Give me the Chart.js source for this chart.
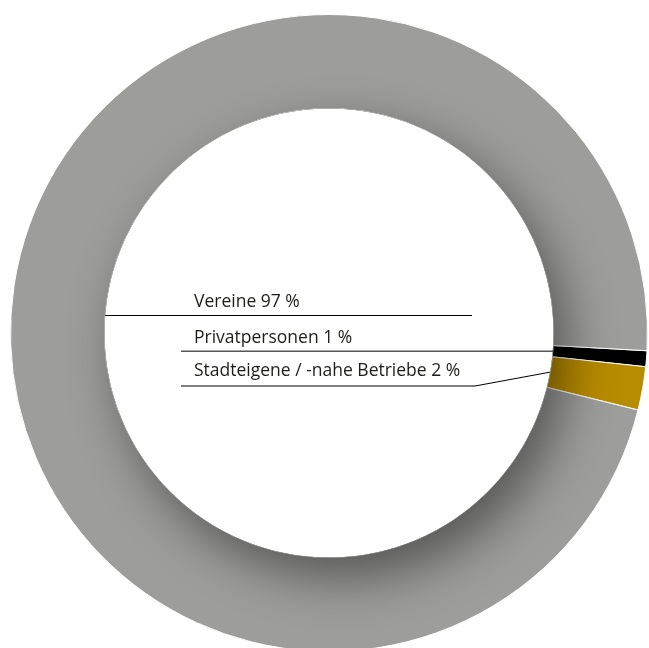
<!DOCTYPE html>
<html>
<head>
<meta charset="utf-8">
<script src="https://cdn.jsdelivr.net/npm/chart.js@4"></script>
<style>
  html, body { margin: 0; padding: 0; background: #fff; overflow: hidden; }
  #wrap { width: 649px; height: 666px; position: relative; }
</style>
</head>
<body>
<div id="wrap"><canvas id="myChart"></canvas></div>
<script>
// data (order = clockwise, starting just below 3 o'clock)
const categories = ['Privatpersonen', 'Stadteigene / -nahe Betriebe', 'Vereine'];
const shares = [0.8, 2.2, 97.0];
const sliceColors = ['#000000', '#b88c00', '#9d9d9c'];

const font = '17.5px "Open Sans", sans-serif';

// inner shadow cast by the hole onto the ring
const ringShadow = {
  id: 'ringShadow',
  afterDatasetsDraw(chart) {
    const arc = chart.getDatasetMeta(0).data[0];
    const { x, y, innerRadius, outerRadius } = arc;
    const ctx = chart.ctx;
    ctx.save();
    ctx.beginPath();
    ctx.arc(x, y, outerRadius, 0, Math.PI * 2);
    ctx.arc(x, y, innerRadius, 0, Math.PI * 2, true);
    ctx.clip();
    ctx.shadowColor = 'rgba(0,0,0,0.45)';
    ctx.shadowBlur = 50;
    ctx.shadowOffsetX = 14;
    ctx.shadowOffsetY = 20;
    ctx.fillStyle = '#000';
    ctx.beginPath();
    ctx.arc(x, y, innerRadius, 0, Math.PI * 2);
    ctx.fill();
    ctx.restore();
  }
};

// labels with leader lines inside the hole
const leaderLabels = {
  id: 'leaderLabels',
  afterDraw(chart) {
    const meta = chart.getDatasetMeta(0);
    const ctx = chart.ctx;
    const cx = meta.data[0].x, cy = meta.data[0].y;
    const rIn = meta.data[0].innerRadius;
    const mid = i => {
      const a = meta.data[i];
      const ang = (a.startAngle + a.endAngle) / 2;
      return { x: cx + Math.cos(ang) * rIn, y: cy + Math.sin(ang) * rIn };
    };
    const text = i => categories[i] + ' ' + Math.round(shares[i]) + ' %';
    const tx = cx - 135;

    ctx.save();
    ctx.font = font;
    ctx.fillStyle = '#1d1d1b';
    ctx.textBaseline = 'alphabetic';
    ctx.strokeStyle = '#000';
    ctx.lineWidth = 1;

    // Vereine
    const yV = cy - 17.5;
    ctx.fillText(text(2), tx, cy - 26);
    ctx.beginPath();
    ctx.moveTo(cx - Math.sqrt(rIn * rIn - 17.5 * 17.5), yV);
    ctx.lineTo(cx + 143, yV);
    ctx.stroke();

    // Privatpersonen
    const pP = mid(0);
    ctx.fillText(text(0), tx, cy + 10);
    ctx.beginPath();
    ctx.moveTo(cx - 148, pP.y);
    ctx.lineTo(pP.x, pP.y);
    ctx.stroke();

    // Stadteigene
    const pS = mid(1);
    const yS = cy + 53;
    ctx.fillText(text(1), tx, cy + 43);
    ctx.beginPath();
    ctx.moveTo(cx - 148, yS);
    ctx.lineTo(cx + 146, yS);
    ctx.lineTo(pS.x, pS.y);
    ctx.stroke();
    ctx.restore();
  }
};

const ctx = document.getElementById('myChart').getContext('2d');
const myChart = new Chart(ctx, {
  type: 'doughnut',
  data: {
    labels: categories,
    datasets: [{
      data: shares,
      backgroundColor: sliceColors,
      borderColor: '#ffffff',
      borderWidth: 1
    }]
  },
  options: {
    responsive: true,
    maintainAspectRatio: false,
    animation: false,
    cutout: '70.5%',
    rotation: 93.2,
    layout: { padding: { left: 10, right: 1, top: 14, bottom: 14 } },
    plugins: {
      legend: { display: false },
      tooltip: { enabled: false }
    }
  },
  plugins: [ringShadow, leaderLabels]
});
</script>
</body>
</html>
